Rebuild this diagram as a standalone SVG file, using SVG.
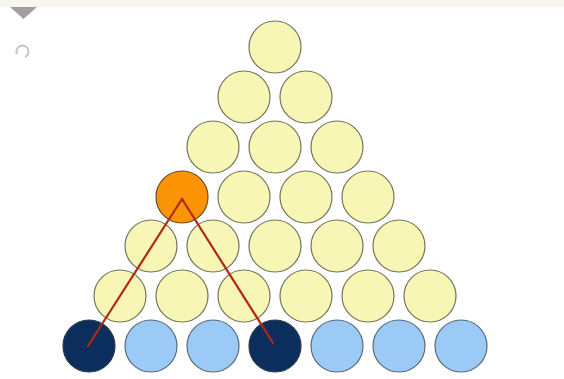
<svg xmlns="http://www.w3.org/2000/svg" width="564" height="379" viewBox="0 0 564 379">
<style>
.y{fill:#f8f6b4;stroke:#74745a;stroke-width:1.2}
.o{fill:#fb9404;stroke:#6a4a20;stroke-width:1.2}
.d{fill:#0b2e5c;stroke:#2a3a50;stroke-width:1.2}
.b{fill:#9ccaf6;stroke:#5a6a7a;stroke-width:1.2}
.ln{stroke:#b02818;stroke-width:2.2;fill:none;stroke-linecap:round}
</style>
<rect width="564" height="379" fill="#ffffff"/>
<rect width="564" height="7" fill="#f8f5ef"/>
<polygon points="10,7 37,7 23.5,19" fill="#a0a0a0"/>
<path d="M17,54 A6,6 0 1 1 25,57" fill="none" stroke="#c4c4c4" stroke-width="2"/>
<g id="row1"><circle class="y" cx="275" cy="47" r="26"/></g>
<g id="row2"><circle class="y" cx="244" cy="97" r="26"/><circle class="y" cx="306" cy="97" r="26"/></g>
<g id="row3"><circle class="y" cx="213" cy="147" r="26"/><circle class="y" cx="275" cy="147" r="26"/><circle class="y" cx="337" cy="147" r="26"/></g>
<g id="row4"><circle class="y" cx="244" cy="197" r="26"/><circle class="y" cx="306" cy="197" r="26"/><circle class="y" cx="368" cy="197" r="26"/></g>
<g id="row5"><circle class="y" cx="151" cy="246" r="26"/><circle class="y" cx="213" cy="246" r="26"/><circle class="y" cx="275" cy="246" r="26"/><circle class="y" cx="337" cy="246" r="26"/><circle class="y" cx="399" cy="246" r="26"/></g>
<g id="row6"><circle class="y" cx="120" cy="296" r="26"/><circle class="y" cx="182" cy="296" r="26"/><circle class="y" cx="244" cy="296" r="26"/><circle class="y" cx="306" cy="296" r="26"/><circle class="y" cx="368" cy="296" r="26"/><circle class="y" cx="430" cy="296" r="26"/></g>
<g id="row7"><circle class="d" cx="89" cy="346" r="26"/><circle class="b" cx="151" cy="346" r="26"/><circle class="b" cx="213" cy="346" r="26"/><circle class="d" cx="275" cy="346" r="26"/><circle class="b" cx="337" cy="346" r="26"/><circle class="b" cx="399" cy="346" r="26"/><circle class="b" cx="461" cy="346" r="26"/></g>
<g id="orange"><circle class="o" cx="182" cy="197" r="26"/></g>
<g id="connectors">
<line class="ln" x1="182" y1="199" x2="88" y2="346"/>
<line class="ln" x1="182" y1="199" x2="273" y2="343"/>
</g>
</svg>
